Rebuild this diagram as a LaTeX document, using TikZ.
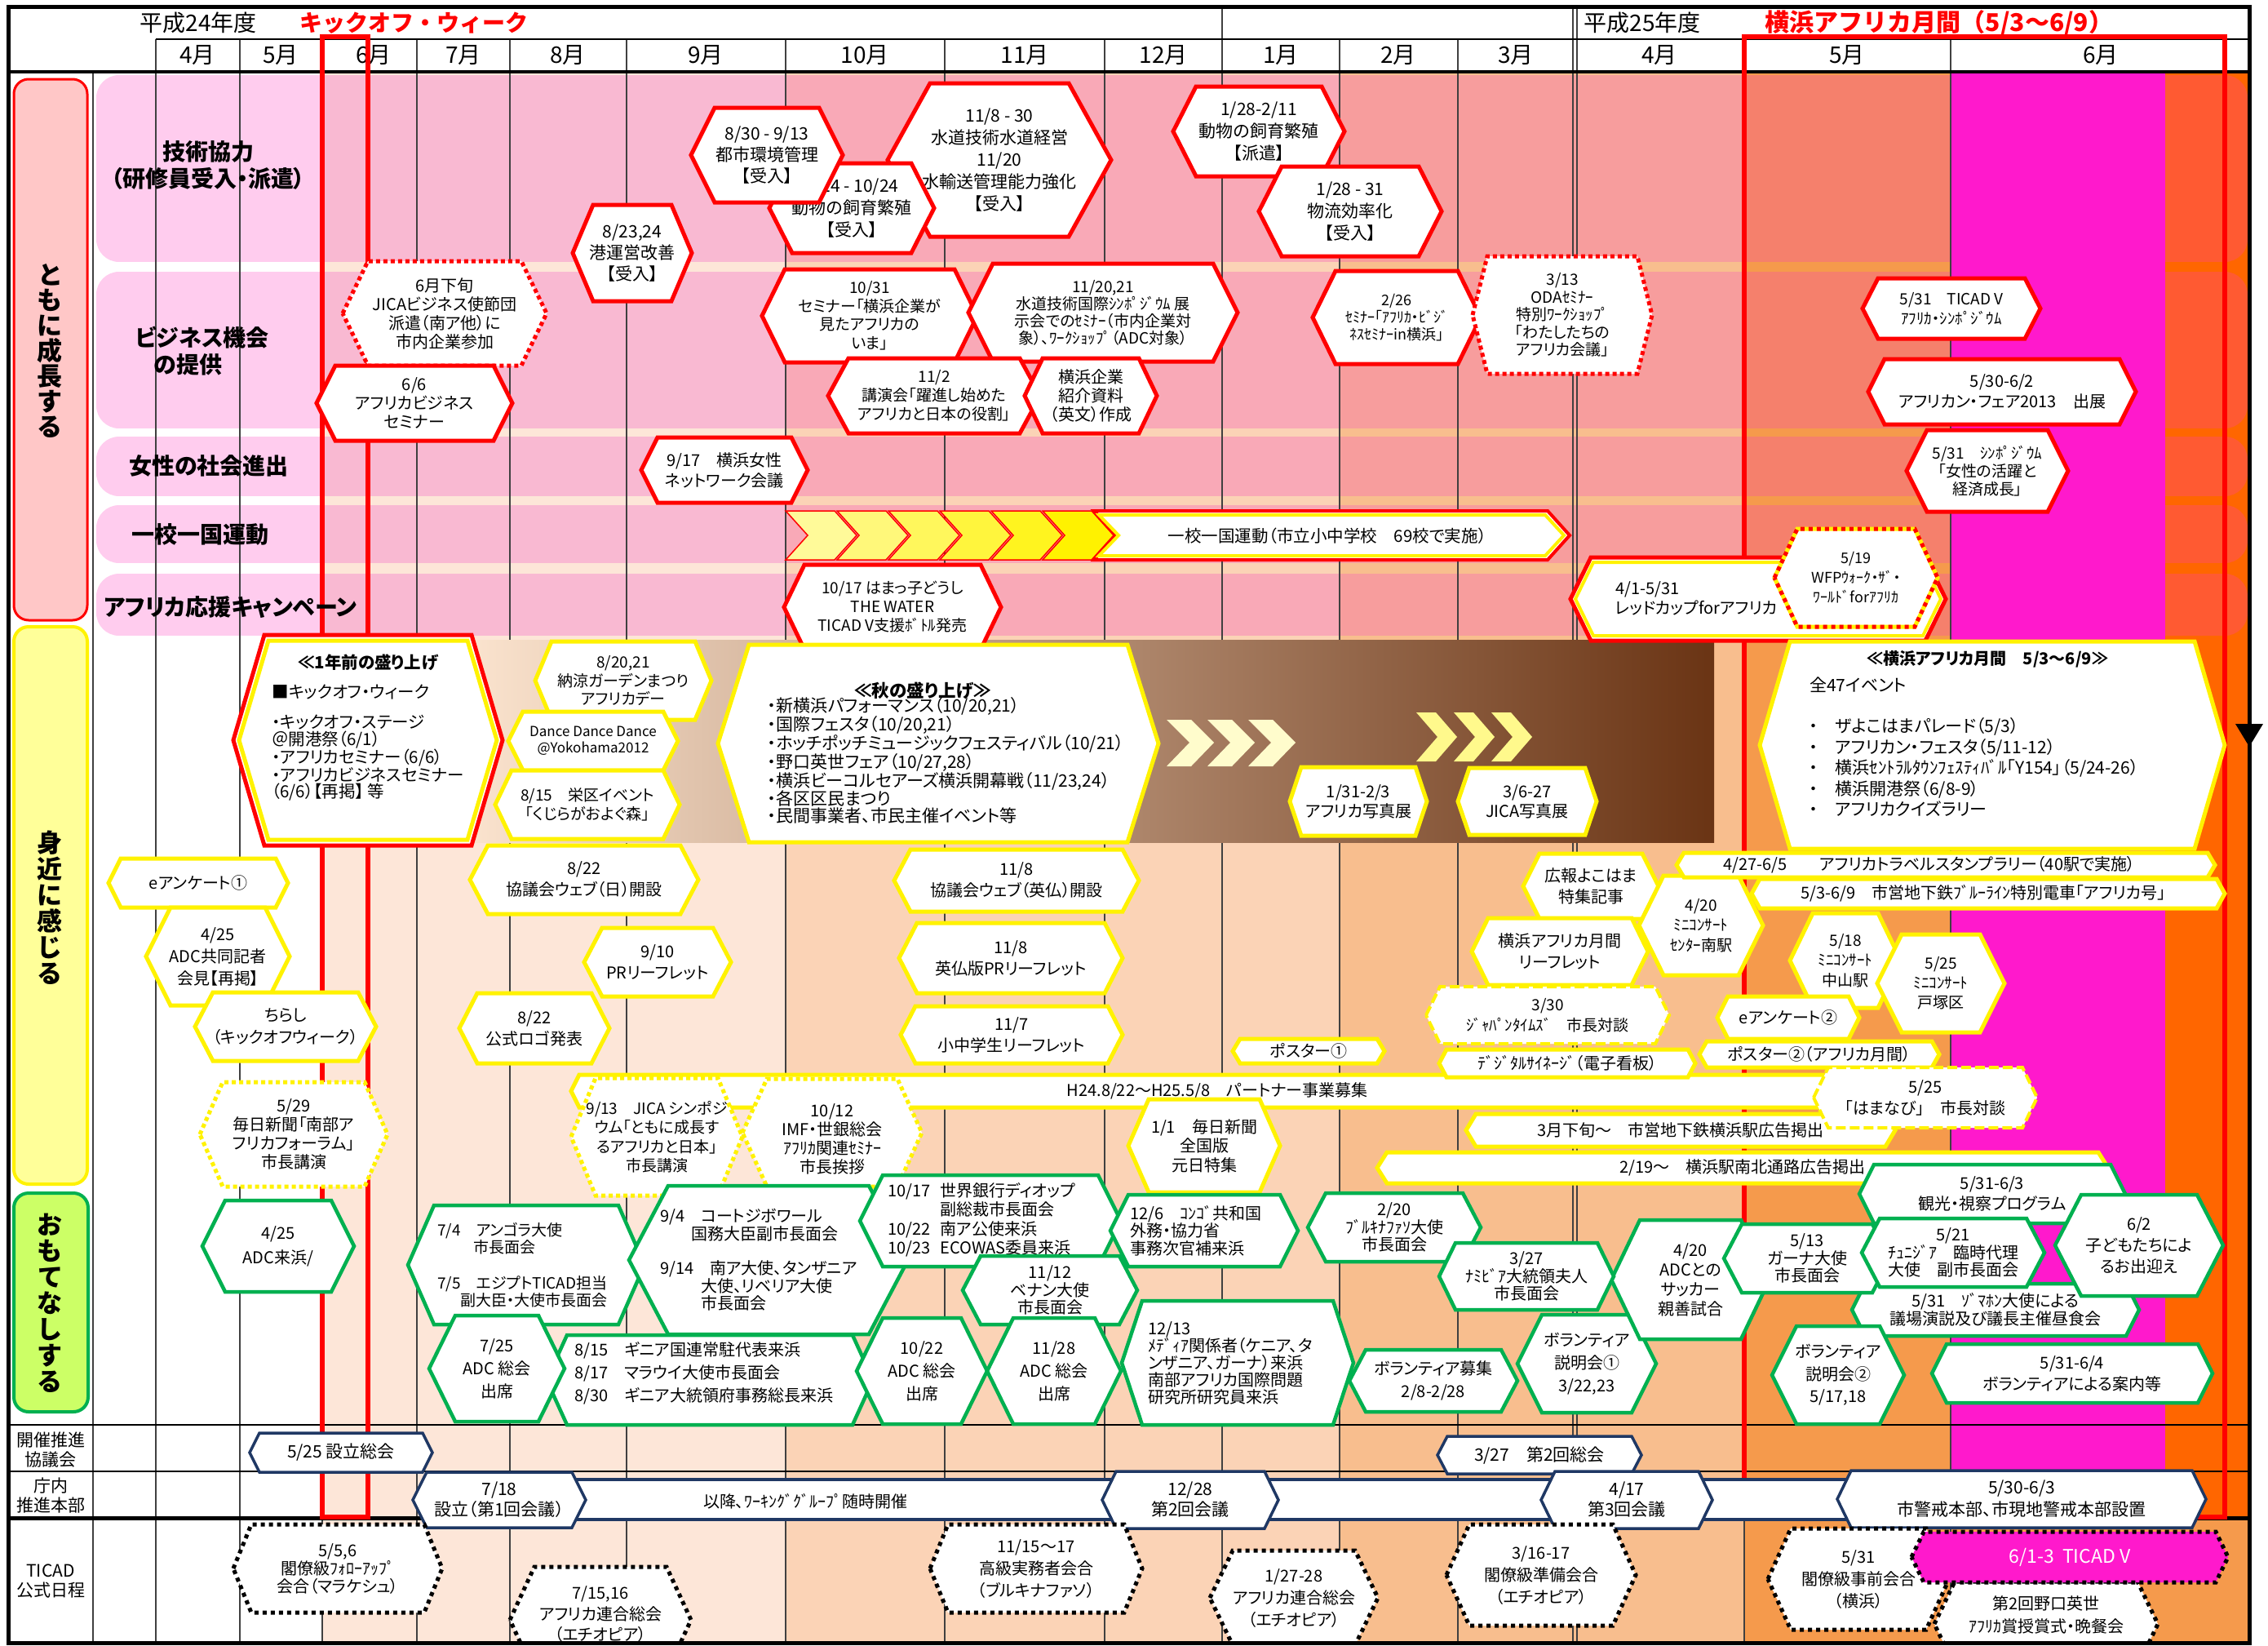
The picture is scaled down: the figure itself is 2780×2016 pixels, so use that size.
\documentclass[tikz,border=0pt]{standalone}
\usepackage{fontspec}
\setmainfont{Noto Sans CJK JP}[RawFeature=+palt]
\newfontfamily\jpfix{Noto Sans CJK JP}
\definecolor{bA}{HTML}{FFCCEE}
\definecolor{bB}{HTML}{F9B9D2}
\definecolor{bC}{HTML}{F9A9B7}
\definecolor{bD}{HTML}{F79D9D}
\definecolor{bE}{HTML}{F5806C}
\definecolor{bF}{HTML}{FF19CC}
\definecolor{bG}{HTML}{FF5A32}
\definecolor{lB}{HTML}{FDE6D8}
\definecolor{lC}{HTML}{FBD3B6}
\definecolor{lD}{HTML}{F8BE8E}
\definecolor{lE}{HTML}{F59A4C}
\definecolor{lG}{HTML}{FF6600}
\definecolor{grn}{HTML}{00B050}
\definecolor{navy}{HTML}{1F3864}
\definecolor{mgray}{HTML}{404040}
\definecolor{tomo}{HTML}{FFC7C7}
\definecolor{mija}{HTML}{FFFF99}
\definecolor{omo}{HTML}{CCFF66}
\definecolor{brL}{HTML}{FCE5D0}
\definecolor{brM}{HTML}{B06A38}
\definecolor{brR}{HTML}{6A3414}
\newcommand{\fz}[2]{\fontsize{#1}{#2}\selectfont}
% hexagon event box: [text opts]{border style}{name}{cx}{cy}{half width}{half height}{tip inset}{text}
\newcommand{\hx}[9][]{%
  \path[#2] ({#4-#6},{#5}) -- ({#4-#6+#8},{#5-#7}) -- ({#4+#6-#8},{#5-#7}) -- ({#4+#6},{#5}) -- ({#4+#6-#8},{#5+#7}) -- ({#4-#6+#8},{#5+#7}) -- cycle;
  \node[tx,#1] (#3) at (#4,#5) {#9};}
% hexagon outline only: {style}{cx}{cy}{half width}{half height}{tip inset}
\newcommand{\hxo}[6]{%
  \path[#1] ({#2-#4},{#3}) -- ({#2-#4+#6},{#3-#5}) -- ({#2+#4-#6},{#3-#5}) -- ({#2+#4},{#3}) -- ({#2+#4-#6},{#3+#5}) -- ({#2-#4+#6},{#3+#5}) -- cycle;}
\tikzset{
  tx/.style={align=center, inner sep=0pt, font=\fz{20}{25}},
  hb/.style={fill=white, line join=miter},
  rd/.style={hb, draw=red, line width=5pt},
  rdt/.style={hb, draw=red, line width=5pt, dash pattern=on 5pt off 4pt},
  yl/.style={hb, draw=yellow, line width=5pt},
  ydt/.style={hb, draw=yellow, line width=5pt, dash pattern=on 5pt off 4pt},
  yds/.style={hb, draw=yellow, line width=4pt, dash pattern=on 12pt off 5pt},
  gr/.style={hb, draw=grn, line width=4.5pt},
  nv/.style={hb, draw=navy, line width=3.5pt},
  kd/.style={hb, draw=black, line width=5pt, dash pattern=on 5pt off 5pt},
  mline/.style={draw=mgray, line width=1.2pt},
}
\begin{document}
\begin{tikzpicture}[x=1pt,y=-1pt]
\useasboundingbox (0,0) rectangle (2780,2016);
\fill[white] (0,0) rectangle (2780,2016);

% month column tints of the body
\fill[lB] (395,88) rectangle (963,2013);
\fill[lC] (963,88) rectangle (1642,2013);
\fill[lD] (1642,88) rectangle (2138,2013);
\fill[lE] (2138,88) rectangle (2757,2013);
\fill[bF] (2391,88) rectangle (2654,1803);
\fill[lG] (2654,88) rectangle (2757,1860);

% theme bands of the first group
\foreach \ya/\yb in {92/321,333/525,535/608,619/690,703/779}{
  \begin{scope}
    \clip[rounded corners=28pt] (118,\ya) rectangle (2755,\yb);
    \fill[bA] (118,\ya) rectangle (395,\yb);
    \fill[bB] (395,\ya) rectangle (963,\yb);
    \fill[bC] (963,\ya) rectangle (1642,\yb);
    \fill[bD] (1642,\ya) rectangle (2138,\yb);
    \fill[bE] (2138,\ya) rectangle (2391,\yb);
    \fill[bF] (2391,\ya) rectangle (2654,\yb);
    \fill[bG] (2654,\ya) rectangle (2757,\yb);
  \end{scope}
}

% month grid
\foreach \x in {294,395,511,625,768,963,1158,1354,1498,1642,1787,2138,2391}
  \draw[mline] (\x,48) -- (\x,2013);
\draw[mline] (191,48) -- (191,2013);
\draw[mline] (114,88) -- (114,2013);
\draw[mline] (1498,8) -- (1498,48);
\draw[mline] (1928,8) -- (1928,2013);
\draw[mline] (1933,8) -- (1933,2013);

% autumn-to-spring band
\shade[left color=brL, middle color=brM, right color=brR] (560,784) rectangle (2101,1032);
\foreach \xo in {1430,1480,1530}
  \fill[yellow!20!white] (\xo,882) -- ({\xo+30},882) -- ({\xo+58},910) -- ({\xo+30},939) -- (\xo,939) -- ({\xo+28},910) -- cycle;
\foreach \xo in {1736,1782,1828}
  \fill[yellow!45!white] (\xo,873) -- ({\xo+24},873) -- ({\xo+50},903) -- ({\xo+24},933) -- (\xo,933) -- ({\xo+26},903) -- cycle;

% rules
\draw[line width=1.5pt] (191,48) -- (2757,48);
\draw[line width=4pt] (10,88) -- (2757,88);
\draw[line width=1.5pt] (10,1746) -- (2757,1746);
\draw[line width=1.5pt] (10,1803) -- (2757,1803);
\draw[line width=5pt] (10,1860) -- (2757,1860);

% header
\node[tx, font=\fz{28}{32}] (hy24) at (243,28) {平成24年度};
\node[tx, font=\jpfix\bfseries\fz{28}{32}, text=red] (hko) at (507,28) {キックオフ・ウィーク};
\node[tx, font=\fz{28}{32}] (hy25) at (2013,28) {平成25年度};
\node[tx, font=\jpfix\bfseries\fz{30}{34}, text=red] (hgk) at (2377,28) {横浜アフリカ月間（5/3～6/9）};
\foreach \x/\t [count=\i] in {242/4月,344/5月,458/6月,568/7月,696/8月,865/9月,1060/10月,1256/11月,1426/12月,1570/1月,1714/2月,1858/3月,2034/4月,2264/5月,2575/6月}
  \node[tx, font=\fz{28}{32}] (mon\i) at (\x,68) {\t};

% period frames
\draw[red, line width=6pt] (395,45) rectangle (451,1859);
\draw[red, line width=6pt] (2138,45) rectangle (2727,1859);

% group labels
\draw[red, fill=tomo, line width=3pt, rounded corners=18pt] (17,97) rectangle (107,760);
\draw[yellow, fill=mija, line width=4pt, rounded corners=18pt] (17,768) rectangle (107,1451);
\draw[grn, fill=omo, line width=4pt, rounded corners=18pt] (17,1462) rectangle (108,1730);
\node[tx, font=\bfseries\fz{31}{31}] (gtomo) at (61,430) {と\\も\\に\\成\\長\\す\\る};
\node[tx, font=\bfseries\fz{31}{32}] (gmija) at (61,1112) {身\\近\\に\\感\\じ\\る};
\node[tx, font=\bfseries\fz{31}{32}] (gomo) at (61,1597) {お\\も\\て\\な\\し\\す\\る};
\node[tx, font=\fz{21}{24}] (lkyo) at (62,1777) {開催推進\\協議会};
\node[tx, font=\fz{21}{24}] (lhon) at (62,1833) {庁内\\推進本部};
\node[tx, font=\fz{21}{24}] (lticad) at (62,1938) {TICAD\\公式日程};

% theme labels
\node[tx, font=\bfseries\fz{28}{33}] (lgij) at (255,202) {技術協力\\（研修員受入・派遣）};
\node[tx, font=\bfseries\fz{28}{33}, align=left] (lbiz) at (248,430) {ビジネス機会\\\hspace*{22pt}の提供};
\node[tx, font=\bfseries\fz{28}{33}] (ljos) at (256,571) {女性の社会進出};
\node[tx, font=\bfseries\fz{28}{33}] (lkou) at (245,655) {一校一国運動};
\node[tx, font=\bfseries\fz{28}{33}, anchor=west] (lcamp) at (127,744) {アフリカ応援キャンペーン};

\begin{scope}
\clip (10,8) rectangle (2757,2013);

% ---- technical cooperation
\hx[font=\fz{21}{27}]{rd}{n1108}{1225}{196}{137}{94}{52}{11/8 - 30\\水道技術水道経営\\11/20\\水輸送管理能力強化\\【受入】}
\hx[font=\fz{21}{27}]{rd}{n0924}{1044}{255}{101}{55}{28}{9/24 - 10/24\\動物の飼育繁殖\\【受入】}
\hx[font=\fz{21}{26}]{rd}{n0830}{940}{190}{93}{58}{29}{8/30 - 9/13\\都市環境管理\\【受入】}
\hx[font=\fz{21}{26}]{rd}{n0823}{775}{310}{73}{59}{25}{8/23,24\\港運営改善\\【受入】}
\hx[font=\fz{21}{27}]{rd}{n0128a}{1543}{161}{105}{55}{28}{1/28-2/11\\動物の飼育繁殖\\【派遣】}
\hx[font=\fz{21}{27}]{rd}{n0128b}{1655}{259}{112}{55}{28}{1/28 - 31\\物流効率化\\【受入】}

% ---- business opportunities
\hx[font=\fz{20}{23}]{rdt}{njica}{545}{384}{125}{64}{31}{6月下旬\\JICAビジネス使節団\\派遣（南ア他）に\\市内企業参加}
\hx[font=\fz{20}{23}]{rd}{n0606}{508}{494}{120}{46}{23}{6/6\\アフリカビジネス\\セミナー}
\hx[font=\fz{19}{22.5}]{rd}{n1031}{1066}{387}{132}{57}{28}{10/31\\セミナー「横浜企業が\\見たアフリカの\\いま」}
\hx[font=\fz{19}{21}]{rd}{n1120}{1352}{383}{165}{60}{30}{11/20,21\\水道技術国際ｼﾝﾎﾟｼﾞｳﾑ 展\\示会でのｾﾐﾅｰ（市内企業対\\象）、ﾜｰｸｼｮｯﾌﾟ（ADC対象）}
\hx[font=\fz{19}{23}]{rd}{n1102}{1145}{485}{130}{46}{25}{11/2\\講演会「躍進し始めた\\アフリカと日本の役割」}
\hx[font=\fz{20}{23}]{rd}{nkigyo}{1337}{485}{81}{46}{22}{横浜企業\\紹介資料\\（英文）作成}
\hx[font=\fz{18}{21}]{rd}{n0226}{1712}{389}{103}{57}{28}{2/26\\ｾﾐﾅｰ「ｱﾌﾘｶ・ﾋﾞｼﾞ\\ﾈｽｾﾐﾅｰin横浜」}
\hx[font=\fz{19}{21.5}]{rdt}{n0313}{1915}{386}{110}{72}{18}{3/13\\ODAｾﾐﾅｰ\\特別ﾜｰｸｼｮｯﾌﾟ\\「わたしたちの\\アフリカ会議」}
\hx[font=\fz{19}{24}]{rd}{n0531a}{2392}{378}{109}{37}{19}{5/31　TICAD V\\ｱﾌﾘｶ・ｼﾝﾎﾟｼﾞｳﾑ}
\hx[font=\fz{20}{25}]{rd}{n0530a}{2454}{480}{164}{40}{20}{5/30-6/2\\アフリカン・フェア2013　出展}

% ---- women
\hx[font=\fz{20}{25}]{rd}{n0917}{888}{576}{102}{40}{20}{9/17　横浜女性\\ネットワーク会議}
\hx[font=\fz{19}{22}]{rd}{n0531b}{2436}{577}{99}{50}{25}{5/31　ｼﾝﾎﾟｼﾞｳﾑ\\「女性の活躍と\\経済成長」}

% ---- one school, one country
\path[hb, draw=red, line width=4pt] (1341,626) -- (1897,626) -- (1924,656) -- (1897,686) -- (1341,686) -- (1368,656) -- cycle;
\path[draw=yellow, line width=4pt] (1347,631) -- (1894,631) -- (1917,656) -- (1894,681) -- (1347,681) -- (1371,656) -- cycle;
\foreach \i/\c in {0/40,1/52,2/64,3/76,4/88,5/100}{
  \pgfmathsetmacro\xo{963+63*\i}
  \filldraw[fill=yellow!\c!white, draw=red, line width=1.5pt] (\xo,626) -- ({\xo+60},626) -- ({\xo+87},656) -- ({\xo+60},686) -- (\xo,686) -- ({\xo+27},656) -- cycle;
}
\node[tx, font=\fz{20.5}{24}] (nkou) at (1627,657) {一校一国運動（市立小中学校　69校で実施）};

% ---- support campaign
\hx[font=\fz{19}{23}]{rd}{n1017}{1094}{744}{133}{52}{25}{10/17 はまっ子どうし\\THE WATER\\TICAD V支援ﾎﾞﾄﾙ発売}
\hxo{hb, draw=red, line width=5pt}{2155}{734}{230}{51}{25}
\hxo{draw=yellow, line width=4pt}{2155}{734}{224}{45}{22}
\node[tx, font=\fz{20}{24}, align=left, anchor=west] (nredcup) at (1980,733) {4/1-5/31\\レッドカップforアフリカ};
\hxo{hb, draw=yellow, line width=5pt}{2275}{708}{100}{60}{28}
\hx[font=\fz{18}{24}]{draw=red, line width=5pt, dash pattern=on 5pt off 5pt}{nwfp}{2275}{708}{100}{60}{28}{5/19\\WFPｳｫｰｸ・ｻﾞ・\\ﾜｰﾙﾄﾞforｱﾌﾘｶ}

% ---- events close to citizens
\hxo{hb, draw=red, line width=5pt}{451}{907}{165}{129}{38}
\hxo{draw=yellow, line width=5pt}{451}{907}{158}{122}{36}
\node[tx, font=\bfseries\fz{20.5}{24}] (n1nen) at (451,812) {≪1年前の盛り上げ};
\node[tx, font=\fz{20.5}{20.5}, align=left, anchor=west] (n1nenl) at (333,910) {■キックオフ・ウィーク\\[17pt]・キックオフ・ステージ\\＠開港祭（6/1）\\・アフリカセミナー（6/6）\\・アフリカビジネスセミナー\\（6/6）【再掲】 等};
\hx[font=\fz{19}{22.5}]{yl}{n0820}{764}{834}{108}{48}{20}{8/20,21\\納涼ガーデンまつり\\アフリカデー}
\hx[font=\fz{17}{20}]{yl}{ndance}{727}{908}{104}{36}{18}{Dance Dance Dance\\@Yokohama2012}
\hx[font=\fz{19}{23}]{yl}{n0815s}{720}{986}{113}{42}{20}{8/15　栄区イベント\\「くじらがおよぐ森」}
\hxo{yl}{1150}{911}{270}{121}{38}
\node[tx, font=\bfseries\fz{21.5}{24}] (naki) at (1131,846) {≪秋の盛り上げ≫};
\node[tx, font=\fz{21}{20.7}, align=left, anchor=west] (nakil) at (941,932) {・新横浜パフォーマンス（10/20,21）\\・国際フェスタ（10/20,21）\\・ホッチポッチミュージックフェスティバル（10/21）\\・野口英世フェア（10/27,28）\\・横浜ビーコルセアーズ横浜開幕戦（11/23,24）\\・各区区民まつり\\・民間事業者、市民主催イベント等};
\hx[font=\fz{20}{24}]{yl}{n0131}{1665}{982}{84}{42}{14}{1/31-2/3\\アフリカ写真展}
\hx[font=\fz{20}{24}]{yl}{n0306}{1872}{982}{85}{41}{14}{3/6-27\\JICA写真展}
\hxo{yl}{2442}{913}{285}{127}{37}
\node[tx, font=\bfseries\fz{20}{24}] (ngek) at (2436,808) {≪横浜アフリカ月間　5/3～6/9≫};
\node[tx, font=\fz{21}{25.5}, align=left, anchor=west] (ngekl) at (2218,915) {全47イベント\\[25pt]・　ザよこはまパレード（5/3）\\・　アフリカン・フェスタ（5/11-12）\\・　横浜ｾﾝﾄﾗﾙﾀｳﾝﾌｪｽﾃｨﾊﾞﾙ「Y154」（5/24-26）\\・　横浜開港祭（6/8-9）\\・　アフリカクイズラリー};

\hx{yl}{nenq1}{243}{1082}{110}{30}{15}{eアンケート①}
\hx[font=\fz{20}{27}]{yl}{n0425k}{267}{1172}{88}{60}{30}{4/25\\ADC共同記者\\会見【再掲】}
\hx[font=\fz{20}{27}]{yl}{nchira}{350}{1258}{111}{42}{22}{ちらし\\（キックオフウィーク）}
\hx[font=\fz{20}{23}]{ydt}{n0529}{360}{1390}{115}{64}{28}{5/29\\毎日新聞「南部ア\\フリカフォーラム」\\市長講演}
\hx[font=\fz{20}{26}]{yl}{n0822w}{716}{1078}{140}{42}{22}{8/22\\協議会ウェブ（日）開設}
\hx[font=\fz{20}{26}]{yl}{n0822l}{655}{1260}{92}{43}{22}{8/22\\公式ロゴ発表}
\hx[font=\fz{20}{26}]{yl}{n0910}{806}{1179}{90}{42}{22}{9/10\\PRリーフレット}
\hx[font=\fz{20}{26}]{yl}{n1108w}{1246}{1079}{150}{38}{20}{11/8\\協議会ウェブ（英仏）開設}
\hx[font=\fz{20}{26}]{yl}{n1108l}{1239}{1174}{137}{43}{22}{11/8\\英仏版PRリーフレット}
\hx[font=\fz{20}{26}]{yl}{n1107}{1240}{1268}{136}{35}{18}{11/7\\小中学生リーフレット}
\hx{yl}{nposter1}{1604}{1288}{93}{15}{9}{ポスター①}
\hx[xshift=-93pt]{yl}{npartner}{1585}{1337}{885}{20}{10}{H24.8/22～H25.5/8　パートナー事業募集}
\hx[font=\fz{19}{23.5}]{ydt}{n0913}{805}{1393}{105}{72}{30}{9/13　JICA シンポジ\\ウム「ともに成長す\\るアフリカと日本」\\市長講演}
\hx[font=\fz{20}{23}, yshift=-8pt]{ydt}{n1012}{1020}{1388}{110}{66}{30}{10/12\\IMF・世銀総会\\ｱﾌﾘｶ関連ｾﾐﾅｰ\\市長挨拶}
\hx[font=\fz{20}{23.5}]{yl}{n0101}{1476}{1404}{93}{57}{25}{1/1　毎日新聞\\全国版\\元日特集}
\hx{yl}{n03ge}{2060}{1385}{263}{20}{12}{3月下旬～　市営地下鉄横浜駅広告掲出}
\hx{yl}{n0219}{2136}{1431}{448}{19}{12}{2/19～　横浜駅南北通路広告掲出}
\hx[font=\fz{20}{26}]{yl}{nkoho}{1950}{1086}{83}{40}{20}{広報よこはま\\特集記事}
\hx[font=\fz{20}{26}]{yl}{ngleaf}{1912}{1166}{108}{41}{20}{横浜アフリカ月間\\リーフレット}
\hx[font=\fz{19}{25}]{yds}{n0330}{1897}{1244}{149}{35}{17}{3/30\\ｼﾞｬﾊﾟﾝﾀｲﾑｽﾞ　市長対談}
\hx{yl}{ndigi}{1921}{1303}{157}{17}{9}{ﾃﾞｼﾞﾀﾙｻｲﾈｰｼﾞ（電子看板）}
\hx[font=\fz{19}{24.5}]{yl}{n0420m}{2085}{1134}{76}{61}{30}{4/20\\ﾐﾆｺﾝｻｰﾄ\\ｾﾝﾀｰ南駅}
\hx[xshift=-20pt]{yl}{nstamp}{2385}{1060}{330}{15}{9}{4/27-6/5　　アフリカトラベルスタンプラリー（40駅で実施）}
\hx[xshift=-6pt]{yl}{ntrain}{2437}{1095}{290}{18}{10}{5/3-6/9　市営地下鉄ﾌﾞﾙｰﾗｲﾝ特別電車「アフリカ号」}
\hx[font=\fz{19}{24.5}]{yl}{n0518}{2262}{1177}{68}{58}{28}{5/18\\ﾐﾆｺﾝｻｰﾄ\\中山駅}
\hx[font=\fz{19}{24}]{yl}{n0525m}{2379}{1205}{78}{60}{30}{5/25\\ﾐﾆｺﾝｻｰﾄ\\戸塚区}
\hx{yl}{nenq2}{2192}{1247}{87}{26}{13}{eアンケート②}
\hx{yl}{nposter2}{2230}{1292}{147}{16}{9}{ポスター②（アフリカ月間）}
\hx[font=\fz{20}{26}]{yds}{nhama}{2360}{1345}{137}{37}{18}{5/25\\「はまなび」　市長対談}

% ---- hospitality
\hx[font=\fz{20}{30}]{gr}{n0425r}{341}{1527}{93}{56}{28}{4/25\\ADC来浜/}
\hx[anchor=west, xshift=-109pt, align=left, font=\fz{19}{21.5}]{gr}{n0704}{645}{1550}{145}{73}{32}{7/4　アンゴラ大使\\\hspace*{44pt}市長面会\\[22pt]7/5　エジプトTICAD担当\\\hspace*{28pt}副大臣・大使市長面会}
\hx[anchor=west, xshift=-133pt, align=left, font=\fz{20}{21.5}]{gr}{n0904}{942}{1544}{171}{91}{48}{9/4　コートジボワール\\\hspace*{38pt}国務大臣副市長面会\\[21pt]9/14　南ア大使、タンザニア\\\hspace*{50pt}大使、リベリア大使\\\hspace*{50pt}市長面会}
\hx[anchor=west, xshift=-166pt, yshift=8pt, align=left, font=\fz{20}{28}]{gr}{n0815g}{870}{1691}{200}{55}{25}{8/15　ギニア国連常駐代表来浜\\8/17　マラウイ大使市長面会\\8/30　ギニア大統領府事務総長来浜}
\hx[font=\fz{20}{28}]{gr}{n0725}{609}{1677}{83}{65}{32}{7/25\\ADC 総会\\出席}
\hx[anchor=west, xshift=-126pt, font=\fz{20}{21.5}]{gr}{n1017g}{1214}{1496}{160}{56}{28}{\begin{tabular}{@{}l@{\hspace{12pt}}l@{}}10/17&世界銀行ディオップ\\&副総裁市長面会\\10/22&南ア公使来浜\\10/23&ECOWAS委員来浜\end{tabular}}
\hx[font=\fz{20}{21.5}]{gr}{n1112}{1287}{1581}{107}{42}{22}{11/12\\ベナン大使\\市長面会}
\hx[font=\fz{20}{28}]{gr}{n1022}{1130}{1680}{80}{65}{32}{10/22\\ADC 総会\\出席}
\hx[font=\fz{20}{28}]{gr}{n1128}{1292}{1680}{82}{65}{32}{11/28\\ADC 総会\\出席}
\hx[anchor=west, xshift=-91pt, align=left, font=\fz{20}{21.5}]{gr}{n1206}{1476}{1508}{115}{44}{22}{12/6　ｺﾝｺﾞ共和国\\外務・協力省\\事務次官補来浜}
\hx[anchor=west, xshift=-110pt, align=left, font=\fz{20}{21}]{gr}{n1213}{1517}{1670}{142}{76}{25}{12/13\\ﾒﾃﾞｨｱ関係者（ケニア、タ\\ンザニア、ガーナ）来浜\\南部アフリカ国際問題\\研究所研究員来浜}
\hx[font=\fz{20}{21.5}]{gr}{n0220}{1709}{1504}{106}{42}{22}{2/20\\ﾌﾞﾙｷﾅﾌｧｿ大使\\市長面会}
\hx[font=\fz{20}{28}]{gr}{nvolb}{1757}{1692}{103}{38}{20}{ボランティア募集\\2/8-2/28}
\hx[font=\fz{20}{28}]{gr}{nvol1}{1945}{1671}{85}{60}{30}{ボランティア\\説明会①\\3/22,23}
\hx[font=\fz{20}{24}]{gr}{n0420s}{2072}{1568}{97}{73}{35}{4/20\\ADCとの\\サッカー\\親善試合}
\hx[font=\fz{20}{21.5}]{gr}{n0327n}{1871}{1564}{107}{41}{20}{3/27\\ﾅﾐﾋﾞｱ大統領夫人\\市長面会}
\hx[font=\fz{20}{25}]{gr}{n0531k}{2442}{1463}{163}{36}{18}{5/31-6/3\\観光・視察プログラム}
\hx[font=\fz{20}{22}]{gr}{n0531z}{2446}{1605}{176}{32}{16}{5/31　ｿﾞﾏﾎﾝ大使による\\議場演説及び議長主催昼食会}
\hx[font=\fz{20}{21.5}]{gr}{n0513}{2215}{1542}{102}{42}{22}{5/13\\ガーナ大使\\市長面会}
\hx[font=\fz{20}{21.5}]{gr}{n0521}{2394}{1535}{112}{42}{22}{5/21\\ﾁｭﾆｼﾞｱ　臨時代理\\大使　副市長面会}
\hx[font=\fz{20}{26}]{gr}{n0602}{2622}{1526}{103}{62}{32}{6/2\\子どもたちによ\\るお出迎え}
\hx[font=\fz{20}{27.5}]{gr}{nvol2}{2253}{1685}{81}{60}{30}{ボランティア\\説明会②\\5/17,18}
\hx[font=\fz{20}{26}]{gr}{n0531v}{2540}{1683}{172}{36}{18}{5/31-6/4\\ボランティアによる案内等}

% ---- promotion council and city headquarters
\hx[font=\fz{21}{26}]{nv}{n0525s}{418}{1780}{112}{24}{12}{5/25 設立総会}
\hx[font=\fz{21}{26}]{nv}{n0327s}{1887}{1783}{125}{23}{12}{3/27　第2回総会}
\path[nv] (700,1813) rectangle (2420,1862);
\node[tx, font=\fz{20}{24}] (nwg) at (987,1840) {以降、ﾜｰｷﾝｸﾞｸﾞﾙｰﾌﾟ随時開催};
\hx[font=\fz{21}{25}]{nv}{n0718}{612}{1838}{106}{34}{17}{7/18\\設立（第1回会議）}
\hx[font=\fz{21}{25}]{nv}{n1228}{1459}{1838}{108}{35}{17}{12/28\\第2回会議}
\hx[font=\fz{21}{25}]{nv}{n0417}{1994}{1838}{105}{35}{17}{4/17\\第3回会議}
\hx[font=\fz{21}{27}]{nv}{n0530h}{2478}{1837}{226}{35}{17}{5/30-6/3\\市警戒本部、市現地警戒本部設置}

% ---- TICAD official schedule
\hx[font=\fz{20}{22}]{kd}{n0505}{414}{1922}{128}{54}{22}{5/5,6\\閣僚級ﾌｫﾛｰｱｯﾌﾟ\\会合（マラケシュ）}
\hx[font=\fz{20}{25.5}, yshift=7pt]{kd}{n0715}{736}{1985}{111}{65}{30}{7/15,16\\アフリカ連合総会\\（エチオピア）}
\hx[font=\fz{20}{27}]{kd}{n1115}{1270}{1922}{130}{54}{22}{11/15～17\\高級実務者会合\\（ブルキナファソ）}
\hx[font=\fz{20}{27}]{kd}{n0127}{1586}{1958}{103}{58}{28}{1/27-28\\アフリカ連合総会\\（エチオピア）}
\hx[font=\fz{20}{27}]{kd}{n0316}{1889}{1930}{116}{62}{28}{3/16-17\\閣僚級準備会合\\（エチオピア）}
\hx[font=\fz{20}{27}]{kd}{n0531j}{2278}{1935}{111}{62}{28}{5/31\\閣僚級事前会合\\（横浜）}
\hx[font=\fz{20}{28}, yshift=11pt]{kd}{nnogu}{2508}{1990}{137}{52}{25}{第2回野口英世\\ｱﾌﾘｶ賞授賞式・晩餐会}
\hx[font=\fz{23}{28}, text=white]{kd, fill=bF}{nticad}{2537}{1908}{194}{31}{15}{6/1-3\ \ TICAD V}
\end{scope}

% outer frame and time arrow
\draw[line width=5pt] (10,8) rectangle (2757,2013);
\fill (2740,887) -- (2774,887) -- (2757,915) -- cycle;
\end{tikzpicture}
\end{document}
